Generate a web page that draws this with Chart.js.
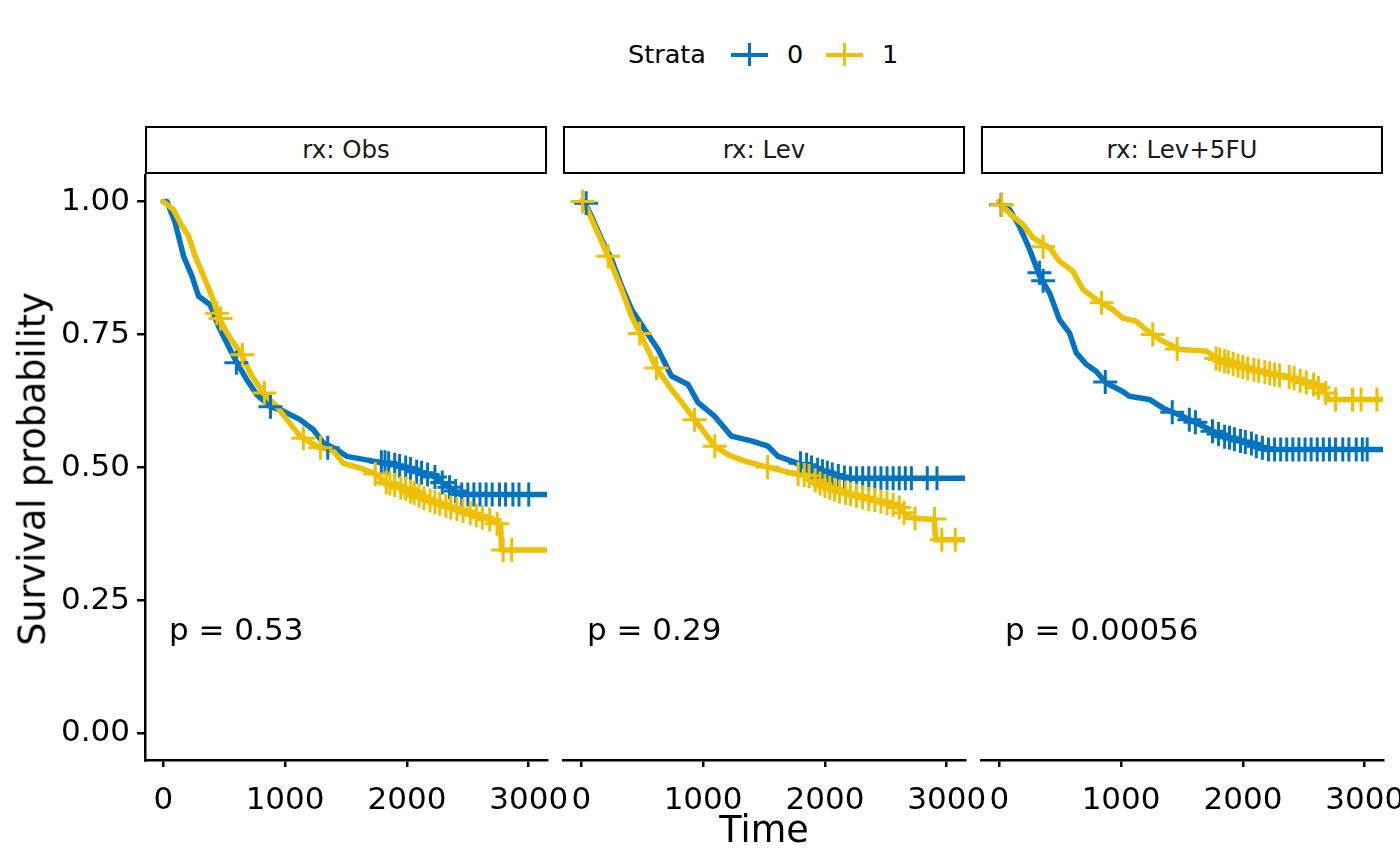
<!DOCTYPE html>
<html>
<head>
<meta charset="utf-8">
<script src="https://cdn.jsdelivr.net/npm/chart.js@4.4.1/dist/chart.umd.min.js"></script>
<style>
  html, body { margin: 0; padding: 0; background: #fff; }
  body { width: 1400px; height: 866px; overflow: hidden; position: relative; font-family: "DejaVu Sans", sans-serif; color: #000; }
  canvas.panel { position: absolute; top: 0; }
  .strip { position: absolute; top: 126px; width: 402px; height: 48px; box-sizing: border-box; border: 2.5px solid #000; background: #fff;
           text-align: center; font-size: 24.5px; line-height: 43px; color: #1a1a1a; }
  .pval { position: absolute; top: 614px; font-size: 31px; line-height: 31px; white-space: nowrap; }
  .legend-text { position: absolute; top: 42px; font-size: 25.5px; line-height: 25.5px; white-space: nowrap; }
  .key-h { position: absolute; top: 52.5px; width: 37px; height: 4.5px; }
  .key-v { position: absolute; top: 43px; width: 3px; height: 23px; }
  #ytitle { position: absolute; left: 33px; top: 469px; font-size: 36.5px; line-height: 36.5px; white-space: nowrap;
            transform: translate(-50%, -50%) rotate(-90deg); }
  #xtitle { position: absolute; left: 764px; top: 812px; font-size: 36.5px; line-height: 36.5px; transform: translateX(-50%); white-space: nowrap; }
</style>
</head>
<body>
<div id="figure"></div>
<div id="ytitle">Survival probability</div>
<div id="xtitle">Time</div>
<script>
// facets, strata and axis ticks
const panels = ['rx: Obs', 'rx: Lev', 'rx: Lev+5FU'];
const pValues = ['p = 0.53', 'p = 0.29', 'p = 0.00056'];
const strata = ['0', '1'];
const xTicks = [0, 1000, 2000, 3000];
const yTicks = [0, 0.25, 0.5, 0.75, 1];

// survival curves [time, survival]
const obs0 = [[0,1],[30,1],[98,0.96],[167,0.897],[235,0.86],[290,0.822],[385,0.806],[453,0.766],[522,0.734],[604,0.697],
  [686,0.665],[768,0.637],[877,0.615],[986,0.606],[1123,0.59],[1232,0.571],[1314,0.546],[1424,0.534],[1506,0.521],
  [1724,0.512],[1888,0.506],[2052,0.496],[2216,0.484],[2300,0.47],[2380,0.458],[2440,0.449],[3300,0.449]];
const obs1 = [[0,1],[84,0.985],[139,0.96],[208,0.935],[262,0.897],[331,0.86],[399,0.822],[453,0.784],[522,0.753],
  [631,0.716],[727,0.672],[822,0.64],[932,0.615],[1014,0.59],[1123,0.559],[1260,0.54],[1396,0.531],[1478,0.508],
  [1615,0.499],[1724,0.49],[1834,0.471],[1998,0.459],[2161,0.44],[2325,0.427],[2516,0.415],[2680,0.402],[2770,0.393],
  [2776,0.345],[3300,0.345]];
const lev0 = [[0,1],[30,0.997],[85,0.972],[167,0.929],[249,0.891],[331,0.841],[413,0.797],[522,0.759],[631,0.722],
  [740,0.672],[877,0.656],[959,0.622],[1096,0.596],[1232,0.559],[1396,0.55],[1533,0.54],[1615,0.521],[1779,0.508],
  [1943,0.496],[2100,0.484],[2200,0.48],[3300,0.48]];
const lev1 = [[0,1],[20,1],[112,0.953],[221,0.897],[331,0.835],[413,0.784],[494,0.747],[617,0.687],[740,0.647],
  [850,0.615],[932,0.59],[1014,0.565],[1096,0.54],[1205,0.524],[1342,0.512],[1506,0.502],[1724,0.49],[1888,0.484],
  [1998,0.465],[2161,0.452],[2380,0.44],[2598,0.427],[2680,0.408],[2740,0.404],[2899,0.402],[2908,0.364],[3300,0.364]];
const fu0 = [[0,1],[16,0.994],[85,0.985],[167,0.953],[249,0.91],[331,0.86],[413,0.828],[494,0.778],[576,0.753],
  [631,0.716],[713,0.694],[795,0.681],[877,0.659],[1014,0.643],[1068,0.634],[1232,0.628],[1342,0.612],[1506,0.596],
  [1670,0.578],[1834,0.559],[2052,0.546],[2189,0.534],[3300,0.534]];
const fu1 = [[0,1],[16,0.994],[112,0.972],[194,0.957],[276,0.932],[413,0.913],[494,0.888],[604,0.869],[686,0.835],
  [795,0.816],[932,0.797],[1014,0.781],[1123,0.775],[1205,0.759],[1314,0.741],[1478,0.722],[1697,0.719],[1806,0.703],
  [2052,0.684],[2325,0.672],[2543,0.659],[2653,0.647],[2708,0.628],[3300,0.628]];

// censoring marks [time, survival]
const obsCens0 = [[600,0.697],[880,0.614],[1350,0.537],[1790,0.51],[1820,0.51],[1850,0.508],[1900,0.505],[1940,0.503],
  [1990,0.5],[2030,0.497],[2080,0.492],[2120,0.49],[2170,0.487],[2230,0.482],[2290,0.472],[2350,0.463],[2400,0.456],
  [2450,0.449],[2500,0.449],[2550,0.449],[2600,0.449],[2650,0.449],[2700,0.449],[2760,0.449],[2810,0.449],
  [2870,0.449],[2920,0.449],[3000,0.449]];
const obsCens1 = [[440,0.79],[470,0.78],[650,0.712],[830,0.64],[1150,0.555],[1290,0.537],[1740,0.488],[1830,0.472],
  [1860,0.47],[1900,0.467],[1950,0.462],[1990,0.46],[2030,0.455],[2060,0.452],[2100,0.447],[2140,0.442],[2190,0.438],
  [2230,0.435],[2270,0.432],[2320,0.428],[2360,0.425],[2410,0.422],[2460,0.418],[2520,0.414],[2570,0.41],
  [2620,0.406],[2680,0.402],[2740,0.394],[2790,0.345],[2860,0.345]];
const levCens0 = [[40,0.997],[1800,0.508],[1850,0.505],[1890,0.5],[1940,0.496],[1980,0.493],[2020,0.49],[2060,0.487],
  [2110,0.484],[2160,0.481],[2210,0.48],[2260,0.48],[2310,0.48],[2360,0.48],[2410,0.48],[2460,0.48],[2510,0.48],
  [2560,0.48],[2610,0.48],[2660,0.48],[2710,0.48],[2840,0.48],[2920,0.48]];
const levCens1 = [[10,1],[221,0.897],[480,0.752],[617,0.687],[930,0.59],[1096,0.54],[1530,0.501],[1780,0.488],
  [1830,0.486],[1870,0.484],[1920,0.476],[1960,0.47],[2000,0.465],[2040,0.462],[2080,0.458],[2120,0.455],[2170,0.452],
  [2210,0.45],[2260,0.447],[2310,0.444],[2360,0.441],[2410,0.439],[2460,0.436],[2510,0.433],[2560,0.43],
  [2610,0.425],[2650,0.415],[2740,0.404],[2900,0.403],[2960,0.364],[3070,0.364]];
const fuCens0 = [[15,0.994],[330,0.866],[360,0.851],[870,0.661],[1420,0.604],[1560,0.59],[1610,0.585],[1750,0.568],
  [1800,0.563],[1850,0.558],[1890,0.556],[1930,0.553],[1980,0.55],[2020,0.548],[2070,0.545],[2110,0.54],[2160,0.537],
  [2210,0.534],[2260,0.534],[2310,0.534],[2360,0.534],[2410,0.534],[2460,0.534],[2510,0.534],[2560,0.534],
  [2610,0.534],[2660,0.534],[2710,0.534],[2760,0.534],[2820,0.534],[2870,0.534],[2930,0.534],[2980,0.534],[3020,0.534]];
const fuCens1 = [[20,0.994],[360,0.915],[840,0.81],[1260,0.75],[1460,0.723],[1780,0.705],[1810,0.703],[1850,0.7],
  [1880,0.698],[1920,0.695],[1960,0.692],[2000,0.689],[2040,0.686],[2090,0.684],[2130,0.682],[2180,0.679],
  [2220,0.677],[2260,0.675],[2300,0.673],[2380,0.67],[2420,0.668],[2470,0.663],[2520,0.66],[2580,0.656],
  [2620,0.65],[2680,0.64],[2760,0.628],[2900,0.628],[2970,0.628],[3100,0.628]];

const curves = [[obs0, obs1], [lev0, lev1], [fu0, fu1]];
const censors = [[obsCens0, obsCens1], [levCens0, levCens1], [fuCens0, fuCens1]];

const colors = ['#0073C2', '#EFC000'];
const FONT = 'DejaVu Sans';

// canvas placement for each facet
const layout = [
  { left: 0,   width: 600, padLeft: 0,  plotLeft: 145 },
  { left: 513, width: 520, padLeft: 50, plotLeft: 563 },
  { left: 931, width: 540, padLeft: 50, plotLeft: 981 }
];
const plotWidth = 402;

const toXY = arr => arr.map(d => ({ x: d[0], y: d[1] }));
const fig = document.getElementById('figure');

function addEl(cls, left, text, color) {
  const el = document.createElement('div');
  el.className = cls;
  el.style.left = left + 'px';
  if (text !== undefined) el.textContent = text;
  if (color) el.style.background = color;
  fig.appendChild(el);
  return el;
}

// legend
addEl('legend-text', 628, 'Strata');
addEl('key-h', 730.5, undefined, colors[0]);
addEl('key-v', 747.5, undefined, colors[0]);
addEl('legend-text', 787, strata[0]);
addEl('key-h', 825.5, undefined, colors[1]);
addEl('key-v', 842.5, undefined, colors[1]);
addEl('legend-text', 882, strata[1]);

panels.forEach((name, i) => {
  const L = layout[i];
  const canvas = document.createElement('canvas');
  canvas.className = 'panel';
  canvas.width = L.width;
  canvas.height = 866;
  canvas.style.left = L.left + 'px';
  fig.appendChild(canvas);

  addEl('strip', L.plotLeft, name);
  addEl('pval', L.plotLeft + 24, pValues[i]);

  const plotRight = L.plotLeft - L.left + plotWidth;
  const datasets = [];
  curves[i].forEach((c, s) => {
    datasets.push({
      label: strata[s], data: toXY(c), borderColor: colors[s], borderWidth: 5.5,
      pointRadius: 0, tension: 0, borderJoinStyle: 'round', borderCapStyle: 'round', order: 4 - s
    });
  });
  censors[i].forEach((c, s) => {
    datasets.push({
      label: strata[s] + ' censor', data: toXY(c), showLine: false, pointStyle: 'cross',
      pointRadius: 12, pointBorderWidth: 3, pointBorderColor: colors[s], borderColor: colors[s], order: 2 - s
    });
  });

  const tickFont = { family: FONT, size: 31 };
  new Chart(canvas, {
    type: 'line',
    data: { datasets },
    options: {
      responsive: false,
      animation: false,
      events: [],
      layout: { padding: { left: L.padLeft, right: L.width - plotRight, top: 175, bottom: 0 } },
      plugins: { legend: { display: false }, tooltip: { enabled: false } },
      scales: {
        x: {
          type: 'linear', min: -150, max: 3150,
          afterBuildTicks: s => { s.ticks = xTicks.map(v => ({ value: v })); },
          afterFit: s => { s.height = 106; },
          ticks: { color: '#000', font: tickFont, padding: 15, maxRotation: 0, autoSkip: false, callback: v => String(v) },
          grid: { drawOnChartArea: false, drawTicks: true, tickLength: 7, color: '#000', lineWidth: 2.5 },
          border: { display: true, color: '#000', width: 2.5 }
        },
        y: i === 0 ? {
          min: -0.05, max: 1.05,
          afterBuildTicks: s => { s.ticks = yTicks.map(v => ({ value: v })); },
          afterFit: s => { s.width = 145; },
          ticks: { color: '#000', font: tickFont, padding: 7, callback: v => v.toFixed(2) },
          grid: { drawOnChartArea: false, drawTicks: true, tickLength: 8, color: '#000', lineWidth: 2.5 },
          border: { display: true, color: '#000', width: 2.5 }
        } : { display: false, min: -0.05, max: 1.05 }
      }
    }
  });
});
</script>
</body>
</html>
